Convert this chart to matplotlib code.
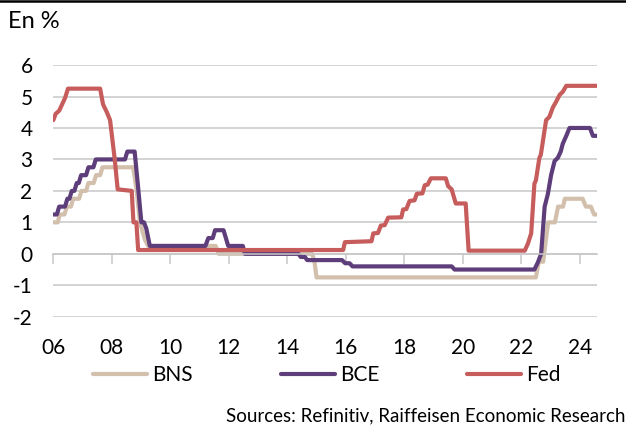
'''
    Policy rates of the SNB, ECB and Fed, 2006-2024
    monthly levels read off the reference chart
'''
import matplotlib.pyplot as plt
from matplotlib.lines import Line2D

plt.rcParams['font.family'] = ['Lato', 'DejaVu Sans']
plt.rcParams['axes.unicode_minus'] = False

# years as decimals, values in %
bns_t = [2006.0, 2006.15, 2006.22, 2006.38, 2006.46, 2006.6, 2006.68, 2006.88,
         2006.96, 2007.12, 2007.2, 2007.38, 2007.46, 2007.6, 2007.68, 2008.73,
         2008.85, 2008.96, 2009.13, 2009.24, 2011.55, 2011.65, 2014.85, 2014.93,
         2015.0, 2022.5, 2022.6, 2022.75, 2022.85, 2022.92, 2023.15, 2023.26,
         2023.43, 2023.49, 2024.1, 2024.21, 2024.38, 2024.49, 2024.58]
bns_v = [1.0, 1.0, 1.25, 1.25, 1.5, 1.5, 1.75, 1.75,
         2.0, 2.0, 2.25, 2.25, 2.5, 2.5, 2.75, 2.75,
         2.0, 1.0, 0.45, 0.25, 0.25, 0.0, 0.0, -0.25,
         -0.75, -0.75, -0.25, -0.25, 0.5, 1.0, 1.0, 1.5,
         1.5, 1.75, 1.75, 1.5, 1.5, 1.25, 1.25]

bce_t = [2006.0, 2006.12, 2006.2, 2006.4, 2006.48, 2006.55, 2006.63, 2006.72,
         2006.8, 2006.87, 2006.95, 2007.12, 2007.2, 2007.37, 2007.45, 2008.45,
         2008.53, 2008.78, 2008.9, 2009.01, 2009.1, 2009.18, 2009.3, 2011.2,
         2011.3, 2011.45, 2011.53, 2011.82, 2011.9, 2011.98, 2012.48, 2012.55,
         2014.38, 2014.46, 2014.6, 2014.68, 2015.87, 2015.98, 2016.13, 2016.23,
         2019.62, 2019.72, 2022.45, 2022.57, 2022.68, 2022.8, 2022.91, 2023.02,
         2023.14, 2023.25, 2023.35, 2023.42, 2023.54, 2023.65, 2024.35, 2024.45,
         2024.58]
bce_v = [1.25, 1.25, 1.5, 1.5, 1.75, 1.75, 2.0, 2.0,
         2.25, 2.25, 2.5, 2.5, 2.75, 2.75, 3.0, 3.0,
         3.25, 3.25, 2.1, 1.0, 1.0, 0.8, 0.25, 0.25,
         0.5, 0.5, 0.75, 0.75, 0.5, 0.25, 0.25, 0.0,
         0.0, -0.1, -0.1, -0.2, -0.2, -0.3, -0.3, -0.4,
         -0.4, -0.5, -0.5, -0.27, 0.0, 1.5, 1.9, 2.5,
         2.95, 3.05, 3.25, 3.5, 3.75, 4.0, 4.0, 3.75,
         3.75]

fed_t = [2006.0, 2006.08, 2006.2, 2006.3, 2006.4, 2006.5, 2007.6, 2007.7,
         2007.83, 2007.94, 2008.1, 2008.2, 2008.68, 2008.74, 2008.84, 2008.9,
         2015.91, 2015.97, 2016.88, 2016.94, 2017.1, 2017.2, 2017.33, 2017.45,
         2017.9, 2017.96, 2018.07, 2018.18, 2018.35, 2018.43, 2018.62, 2018.7,
         2018.8, 2018.91, 2019.42, 2019.5, 2019.62, 2019.76, 2020.1, 2020.2,
         2022.12, 2022.23, 2022.34, 2022.45, 2022.5, 2022.62, 2022.67, 2022.85,
         2022.96, 2023.08, 2023.19, 2023.31, 2023.42, 2023.54, 2024.58]
fed_v = [4.25, 4.45, 4.55, 4.75, 4.95, 5.25, 5.25, 4.75,
         4.5, 4.25, 3.0, 2.05, 2.0, 1.0, 1.0, 0.12,
         0.12, 0.37, 0.4, 0.65, 0.66, 0.9, 0.91, 1.15,
         1.16, 1.41, 1.42, 1.68, 1.7, 1.91, 1.92, 2.18,
         2.2, 2.4, 2.4, 2.15, 2.05, 1.6, 1.6, 0.1,
         0.1, 0.33, 0.65, 2.23, 2.33, 3.05, 3.15, 4.25,
         4.35, 4.65, 4.83, 5.05, 5.15, 5.34, 5.34]

YEARS = [2006, 2008, 2010, 2012, 2014, 2016, 2018, 2020, 2022, 2024]
YEAR_LABELS = ['06', '08', '10', '12', '14', '16', '18', '20', '22', '24']
Y_TICKS = [-2, -1, 0, 1, 2, 3, 4, 5, 6]

GRID = '#C8C8C8'

fig = plt.figure(figsize=(6.26, 4.28), dpi=100)
ax = fig.add_axes([0.0852, 0.260, 0.868, 0.588])

ax.plot(bns_t, bns_v, color='#D2C0AD', lw=3, label='BNS',
        solid_capstyle='round', solid_joinstyle='round')
ax.plot(bce_t, bce_v, color='#5E3D7B', lw=3, label='BCE',
        solid_capstyle='round', solid_joinstyle='round')
ax.plot(fed_t, fed_v, color='#C65C5B', lw=3, label='Fed',
        solid_capstyle='round', solid_joinstyle='round')

ax.set_xlim(2006, 2024.58)
ax.set_ylim(-2, 6)
ax.set_yticks(Y_TICKS)
ax.yaxis.grid(True, color=GRID, lw=1.1)
ax.set_axisbelow(True)
for side in ['top', 'right', 'left']:
    ax.spines[side].set_visible(False)
ax.spines['bottom'].set_position(('data', 0))
ax.spines['bottom'].set_color(GRID)
ax.spines['bottom'].set_linewidth(1.1)
ax.set_xticks(YEARS)
ax.tick_params(axis='x', length=7, width=1.1, color=GRID, labelbottom=False)
ax.tick_params(axis='y', length=0, pad=15, labelsize=15)

# year labels sit below the plot, ticks sit on the zero line
sec = ax.secondary_xaxis(0)
sec.set_xticks(YEARS, labels=YEAR_LABELS)
sec.tick_params(length=0, pad=15, labelsize=15)
sec.spines['bottom'].set_visible(False)

fig.add_artist(Line2D([0, 1], [0.9965, 0.9965], color='black', lw=1.8))
fig.text(8 / 626, 1 - 28 / 428, 'En %', fontsize=17, va='baseline')

fig.legend(loc='center left', bbox_to_anchor=(93 / 626, 1 - 375 / 428),
           ncol=3, frameon=False, fontsize=15, handlelength=2.6,
           handletextpad=0.25, columnspacing=4.2, borderpad=0,
           borderaxespad=0)

fig.text(625 / 626, 1 - 421 / 428,
         'Sources: Refinitiv, Raiffeisen Economic Research',
         ha='right', va='baseline', fontsize=13.5)

fig.savefig('out.png', dpi=100)
